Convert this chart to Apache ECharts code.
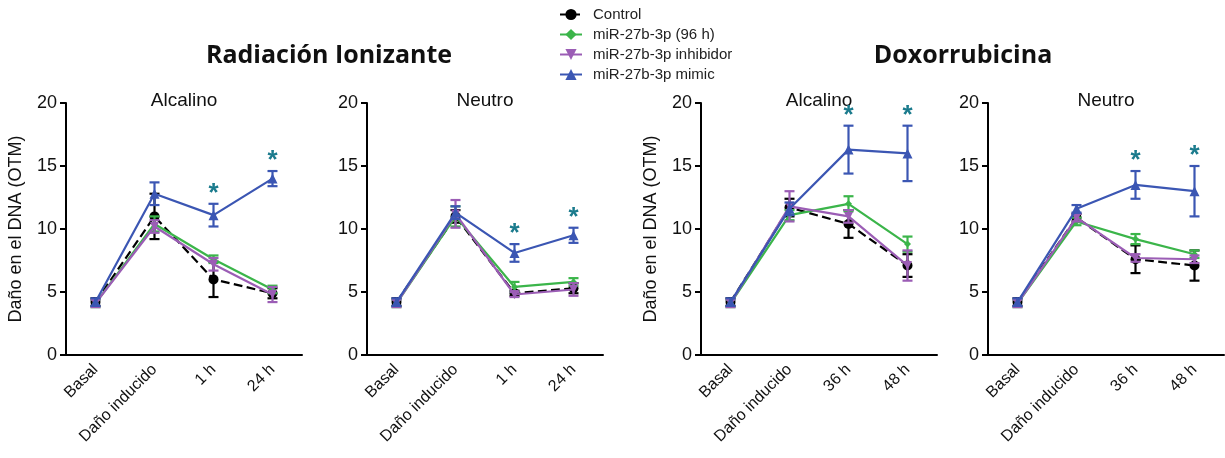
<!DOCTYPE html>
<html><head><meta charset="utf-8">
<script src="https://cdn.jsdelivr.net/npm/echarts@6/dist/echarts.min.js"></script>
<style>html,body{margin:0;padding:0;background:#fff}#c{width:1225px;height:458px}</style>
</head><body><div id="c"></div>
<script>
// ---- data ----
const catsRad = ['Basal', 'Daño inducido', '1 h', '24 h'];
const catsDox = ['Basal', 'Daño inducido', '36 h', '48 h'];
const seriesNames = ['Control', 'miR-27b-3p (96 h)', 'miR-27b-3p inhibidor', 'miR-27b-3p mimic'];
const yTicks = [0, 5, 10, 15, 20];

// Radiación Ionizante – Alcalino
const radAlcControl = [4.2, 11.0, 6.0, 4.9];
const radAlcControlErr = [0.3, 1.8, 1.4, 0.4];
const radAlcMir96 = [4.1, 10.4, 7.6, 5.2];
const radAlcMir96Err = [0.3, 0.6, 0.3, 0.3];
const radAlcInhib = [4.1, 10.2, 7.2, 4.8];
const radAlcInhibErr = [0.3, 0.5, 0.5, 0.6];
const radAlcMimic = [4.2, 12.8, 11.1, 14.0];
const radAlcMimicErr = [0.3, 0.9, 0.9, 0.6];

// Radiación Ionizante – Neutro
const radNeuControl = [4.2, 11.0, 4.9, 5.3];
const radNeuControlErr = [0.3, 0.5, 0.2, 0.4];
const radNeuMir96 = [4.1, 11.0, 5.4, 5.8];
const radNeuMir96Err = [0.3, 0.8, 0.4, 0.3];
const radNeuInhib = [4.1, 11.2, 4.8, 5.2];
const radNeuInhibErr = [0.3, 1.1, 0.2, 0.5];
const radNeuMimic = [4.2, 11.3, 8.1, 9.5];
const radNeuMimicErr = [0.3, 0.5, 0.7, 0.6];

// Doxorrubicina – Alcalino
const doxAlcControl = [4.2, 11.7, 10.4, 7.1];
const doxAlcControlErr = [0.3, 0.7, 1.1, 0.9];
const doxAlcMir96 = [4.1, 11.1, 12.0, 8.8];
const doxAlcMir96Err = [0.3, 0.4, 0.6, 0.6];
const doxAlcInhib = [4.1, 11.8, 11.0, 7.1];
const doxAlcInhibErr = [0.3, 1.2, 0.5, 1.2];
const doxAlcMimic = [4.2, 11.6, 16.3, 16.0];
const doxAlcMimicErr = [0.3, 0.5, 1.9, 2.2];

// Doxorrubicina – Neutro
const doxNeuControl = [4.2, 10.9, 7.6, 7.1];
const doxNeuControlErr = [0.3, 0.3, 1.1, 1.2];
const doxNeuMir96 = [4.1, 10.6, 9.2, 8.0];
const doxNeuMir96Err = [0.3, 0.3, 0.4, 0.3];
const doxNeuInhib = [4.1, 10.9, 7.7, 7.6];
const doxNeuInhibErr = [0.3, 0.3, 0.3, 0.3];
const doxNeuMimic = [4.2, 11.6, 13.5, 13.0];
const doxNeuMimicErr = [0.3, 0.3, 1.1, 2.0];

// significant points (mimic vs control), category indexes
const sigIdx = [2, 3];

const panels = [
  { cats: catsRad, title: 'Alcalino', yName: true,
    means: [radAlcControl, radAlcMir96, radAlcInhib, radAlcMimic],
    errs: [radAlcControlErr, radAlcMir96Err, radAlcInhibErr, radAlcMimicErr] },
  { cats: catsRad, title: 'Neutro', yName: false,
    means: [radNeuControl, radNeuMir96, radNeuInhib, radNeuMimic],
    errs: [radNeuControlErr, radNeuMir96Err, radNeuInhibErr, radNeuMimicErr] },
  { cats: catsDox, title: 'Alcalino', yName: true,
    means: [doxAlcControl, doxAlcMir96, doxAlcInhib, doxAlcMimic],
    errs: [doxAlcControlErr, doxAlcMir96Err, doxAlcInhibErr, doxAlcMimicErr] },
  { cats: catsDox, title: 'Neutro', yName: false,
    means: [doxNeuControl, doxNeuMir96, doxNeuInhib, doxNeuMimic],
    errs: [doxNeuControlErr, doxNeuMir96Err, doxNeuInhibErr, doxNeuMimicErr] }
];

// ---- styles ----
const colors = ['#000000', '#3bb54a', '#9b5db5', '#3b56b3'];
const symbols = ['circle', 'diamond', 'path://M0,0 L10,0 L5,9 Z', 'triangle'];
const symbolSizes = [10, 7, 9, 10];
const lineTypes = ['dashed', 'solid', 'solid', 'solid'];
const starColor = '#1b7b8d';
const gridLefts = [66, 367, 701, 988];
const gridW = 236, gridTop = 103, gridH = 252;
const font = '"Liberation Sans", Arial, sans-serif';

const chart = echarts.init(document.getElementById('c'), null, { renderer: 'canvas' });

const grids = [], xAxes = [], yAxes = [], series = [], titles = [];

titles.push({ text: 'Radiación Ionizante', left: 324, top: 38, textAlign: 'center',
  textStyle: { fontFamily: '"Open Sans", sans-serif', fontWeight: 'bold', fontSize: 25, color: '#111' } });
titles.push({ text: 'Doxorrubicina', left: 958, top: 38, textAlign: 'center',
  textStyle: { fontFamily: '"Open Sans", sans-serif', fontWeight: 'bold', fontSize: 25, color: '#111' } });

const order = [3, 2, 1, 0]; // draw control on top

panels.forEach((p, gi) => {
  grids.push({ left: gridLefts[gi], top: gridTop, width: gridW, height: gridH, containLabel: false });
  titles.push({ text: p.title, left: gridLefts[gi] + gridW / 2 - 5, top: 86, textAlign: 'center',
    textStyle: { fontFamily: font, fontWeight: 'normal', fontSize: 19, color: '#111' } });
  xAxes.push({
    type: 'category', gridIndex: gi, data: p.cats, boundaryGap: true,
    axisLine: { lineStyle: { color: '#000', width: 2 } },
    axisTick: { alignWithLabel: true, length: 6, lineStyle: { color: '#000', width: 2 } },
    axisLabel: { rotate: 45, fontSize: 16, color: '#111', fontFamily: font, margin: 12, interval: 0 },
    splitLine: { show: false }
  });
  yAxes.push({
    type: 'value', gridIndex: gi, min: yTicks[0], max: yTicks[yTicks.length - 1], interval: yTicks[1] - yTicks[0],
    name: p.yName ? 'Daño en el DNA (OTM)' : '', nameLocation: 'middle', nameRotate: 90, nameGap: 41,
    nameTextStyle: { fontSize: 18, color: '#111', fontFamily: font },
    axisLine: { show: true, lineStyle: { color: '#000', width: 2 } },
    axisTick: { show: true, length: 6, lineStyle: { color: '#000', width: 2 } },
    axisLabel: { fontSize: 18, color: '#111', fontFamily: font, margin: 9 },
    splitLine: { show: false }
  });

  order.forEach(si => {
    const col = colors[si];
    series.push({
      name: seriesNames[si], type: 'line', xAxisIndex: gi, yAxisIndex: gi,
      data: p.means[si], symbol: symbols[si], symbolSize: symbolSizes[si],
      showSymbol: true, color: col, z: 3 + (3 - order.indexOf(si)),
      lineStyle: { color: col, width: 2.2, type: lineTypes[si] },
      itemStyle: { color: col, borderWidth: 0 },
      animation: false
    });
    series.push({
      type: 'custom', xAxisIndex: gi, yAxisIndex: gi, silent: true, animation: false,
      z: 3 + (3 - order.indexOf(si)),
      data: p.means[si].map((m, i) => [i, m, p.errs[si][i]]),
      encode: { x: 0, y: 1 },
      renderItem: (params, api) => {
        const i = api.value(0), m = api.value(1), e = api.value(2);
        const t = api.coord([i, m + e]), b = api.coord([i, m - e]);
        const hw = 5;
        const st = { stroke: col, lineWidth: 2.2 };
        return { type: 'group', children: [
          { type: 'line', shape: { x1: t[0], y1: t[1], x2: b[0], y2: b[1] }, style: st },
          { type: 'line', shape: { x1: t[0] - hw, y1: t[1], x2: t[0] + hw, y2: t[1] }, style: st },
          { type: 'line', shape: { x1: b[0] - hw, y1: b[1], x2: b[0] + hw, y2: b[1] }, style: st }
        ] };
      }
    });
  });

  // asterisks above mimic error bars
  series.push({
    type: 'custom', xAxisIndex: gi, yAxisIndex: gi, silent: true, animation: false, z: 10,
    data: sigIdx.map(i => [i, p.means[3][i] + p.errs[3][i]]),
    encode: { x: 0, y: 1 },
    renderItem: (params, api) => {
      const c = api.coord([api.value(0), api.value(1)]);
      return { type: 'text', style: { text: '*', x: c[0], y: c[1] + 3, textAlign: 'center', textVerticalAlign: 'bottom',
        fill: starColor, font: 'bold 26px "Liberation Sans", Arial, sans-serif' } };
    }
  });
});

chart.setOption({
  animation: false,
  backgroundColor: '#fff',
  title: titles,
  legend: {
    orient: 'vertical', left: 559, top: 7, padding: 0, itemGap: 5, itemWidth: 22, itemHeight: 14,
    data: seriesNames,
    textStyle: { fontSize: 15, color: '#222', fontFamily: font, padding: [0, 0, 0, 6] },
    selectedMode: false
  },
  grid: grids, xAxis: xAxes, yAxis: yAxes, series: series
});
</script></body></html>
